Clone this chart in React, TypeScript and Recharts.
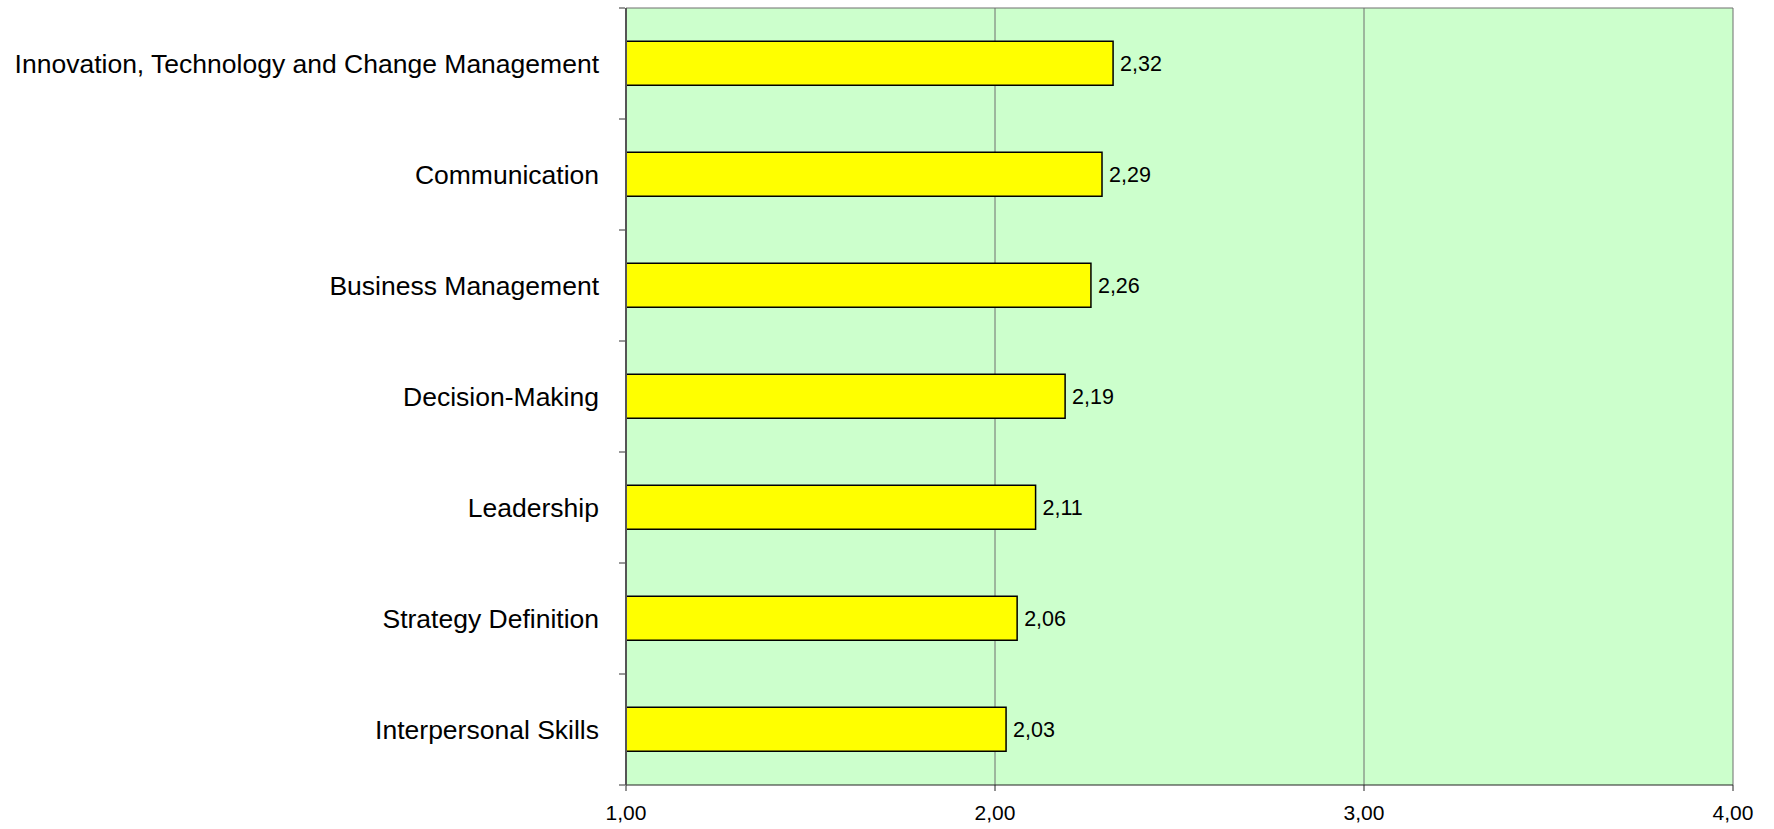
import { Bar, BarChart, CartesianGrid, LabelList, XAxis, YAxis } from "recharts";

const categories = [
  "Innovation, Technology and Change Management",
  "Communication",
  "Business Management",
  "Decision-Making",
  "Leadership",
  "Strategy Definition",
  "Interpersonal Skills",
];
const scores = [2.32, 2.29, 2.26, 2.19, 2.11, 2.06, 2.03];
const xTicks = [1, 2, 3, 4];

const W = 1774;
const H = 829;
const M = { top: 8, right: 41, bottom: 0, left: 0 };
const X_AXIS_H = 44;
const Y_AXIS_W = 626;
const band = (H - M.top - M.bottom - X_AXIS_H) / categories.length;

const data = categories.map((name, i) => ({ name, score: scores[i] }));

const fmt = (v: number) => v.toFixed(2).replace(".", ",");

function CategoryTick(props: any) {
  const { x, y, payload, index } = props;
  return (
    <g>
      <line x1={x + 1} x2={x + 7} y1={y - band / 2} y2={y - band / 2} stroke="#333" />
      {index === categories.length - 1 && (
        <line x1={x + 1} x2={x + 7} y1={y + band / 2} y2={y + band / 2} stroke="#333" />
      )}
      <text x={x - 19} y={y} dy={9} textAnchor="end" fontSize={26.5} fill="#000">
        {payload.value}
      </text>
    </g>
  );
}

export default function App() {
  return (
    <div style={{ fontFamily: "'Liberation Sans', Arial, sans-serif" }}>
      <style>{"body{margin:0}"}</style>
      <BarChart width={W} height={H} data={data} layout="vertical" margin={M} barCategoryGap="30%">
        <CartesianGrid
          fill="#CCFFCC"
          stroke="#6E6E6E"
          vertical
          horizontal
          horizontalCoordinatesGenerator={({ offset }: any) => [offset.top]}
        />
        <XAxis
          type="number"
          domain={[1, 4]}
          ticks={xTicks}
          tickFormatter={fmt}
          height={X_AXIS_H}
          axisLine={{ stroke: "#222" }}
          tickLine={{ stroke: "#222" }}
          tickSize={6}
          tick={{ fontSize: 21, fill: "#000", dy: 12 }}
        />
        <YAxis
          type="category"
          dataKey="name"
          width={Y_AXIS_W}
          axisLine={{ stroke: "#555", strokeWidth: 2 }}
          tickLine={false}
          tick={<CategoryTick />}
          interval={0}
        />
        <Bar dataKey="score" fill="#FFFF00" stroke="#000" strokeWidth={1.5} isAnimationActive={false}>
          <LabelList dataKey="score" position="right" offset={7} formatter={(v: any) => fmt(Number(v))} fontSize={21.5} fill="#000" />
        </Bar>
      </BarChart>
    </div>
  );
}
